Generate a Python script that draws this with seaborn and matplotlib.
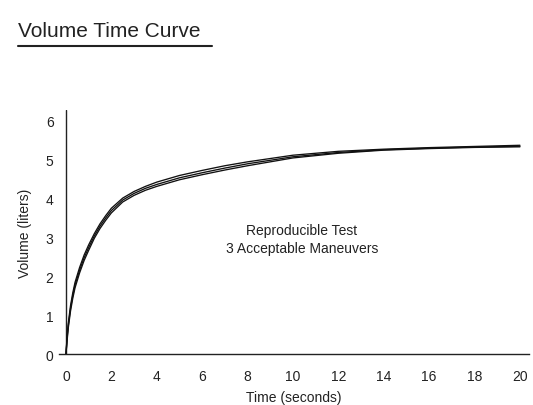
import matplotlib
matplotlib.use("Agg")
import matplotlib.pyplot as plt
import matplotlib.lines as mlines
import seaborn as sns
import pandas as pd

time_s = [0, 0.05, 0.1, 0.2, 0.3, 0.4, 0.6, 0.8, 1.0, 1.25, 1.5, 1.75, 2.0, 2.5, 3, 3.5, 4, 5, 6, 7, 8, 10, 12, 14, 16, 18, 20]
maneuver_1 = [0, 0.46, 0.78, 1.24, 1.57, 1.84, 2.22, 2.54, 2.8, 3.09, 3.34, 3.55, 3.74, 4.0, 4.17, 4.3, 4.41, 4.58, 4.71, 4.83, 4.93, 5.1, 5.2, 5.255, 5.295, 5.325, 5.355]
maneuver_2 = [0, 0.4, 0.72, 1.17, 1.5, 1.77, 2.15, 2.47, 2.73, 3.03, 3.28, 3.49, 3.68, 3.95, 4.12, 4.25, 4.35, 4.52, 4.65, 4.77, 4.88, 5.06, 5.17, 5.24, 5.28, 5.31, 5.33]
maneuver_3 = [0, 0.34, 0.66, 1.1, 1.43, 1.7, 2.08, 2.4, 2.66, 2.97, 3.22, 3.43, 3.62, 3.9, 4.07, 4.2, 4.3, 4.47, 4.6, 4.72, 4.83, 5.03, 5.15, 5.23, 5.27, 5.3, 5.315]

x_ticks = [0, 2, 4, 6, 8, 10, 12, 14, 16, 18, 20]
y_ticks = [0, 1, 2, 3, 4, 5, 6]

df = pd.DataFrame({
    "Time": time_s * 3,
    "Volume": maneuver_1 + maneuver_2 + maneuver_3,
    "Maneuver": ["1"] * len(time_s) + ["2"] * len(time_s) + ["3"] * len(time_s),
})

sns.set_theme(style="white")
FONT = ["Liberation Sans Narrow", "Liberation Sans", "DejaVu Sans"]
plt.rcParams["font.family"] = FONT

fig = plt.figure(figsize=(5.33, 4.06), dpi=100)
ax = fig.add_axes([0.111, 0.1256, 0.8815, 0.601])

sns.lineplot(data=df, x="Time", y="Volume", hue="Maneuver",
             palette=["#111111", "#111111", "#111111"], linewidth=0.95,
             legend=False, ax=ax, estimator=None, sort=False)

ax.set_xlim(-0.3, 20.4)
ax.set_ylim(0, 6.26)
ax.set_xticks(x_ticks)
ax.set_yticks(y_ticks)
ax.set_xticklabels([str(v) for v in x_ticks])
ax.set_yticklabels([str(v) for v in y_ticks])
ax.tick_params(axis="x", length=0, pad=11, labelsize=10, colors="#222222")
ax.tick_params(axis="y", length=0, pad=4, labelsize=10, colors="#222222")

for s in ["top", "right", "left"]:
    ax.spines[s].set_visible(False)
ax.spines["bottom"].set_color("#222222")
ax.spines["bottom"].set_linewidth(1.0)
ax.axvline(0, color="#222222", linewidth=1.0, zorder=1)

ax.set_xlabel("Time (seconds)", fontsize=10, color="#222222", labelpad=5)
ax.set_ylabel("Volume (liters)", fontsize=10, color="#222222", labelpad=10)

ax.text(10.4, 2.95, "Reproducible Test\n3 Acceptable Maneuvers",
        ha="center", va="center", fontsize=10, color="#222222", linespacing=1.3)

fig.text(18 / 533, 1 - 37 / 406, "Volume Time Curve", ha="left", va="baseline",
         fontsize=15, color="#222222")
fig.add_artist(mlines.Line2D([18 / 533, 212 / 533], [1 - 47 / 406, 1 - 47 / 406],
                             color="#222222", linewidth=1.5))

fig.savefig("out.png", dpi=100)
